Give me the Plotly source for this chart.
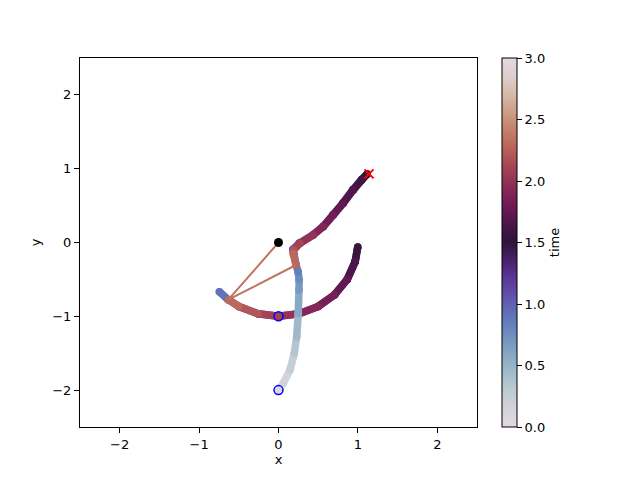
import plotly.graph_objects as go

# ---------------- data ----------------
T_MIN, T_MAX = 0.0, 3.0

# mass 1 trajectory (time, x, y)
m1_t = [0.00, 0.20, 0.40, 0.62, 0.85, 0.95, 1.02, 1.08, 1.14, 1.20, 1.26, 1.32, 1.38, 1.44, 1.50,
        1.60, 1.70, 1.80, 1.88, 1.96, 2.06, 2.16, 2.26, 2.35]
m1_x = [0.000, -0.259, -0.500, -0.632, -0.745, -0.632, -0.500, -0.259, 0.000, 0.259, 0.500, 0.707, 0.866, 0.966, 0.998,
        0.966, 0.866, 0.707, 0.500, 0.259, 0.000, -0.259, -0.500, -0.632]
m1_y = [-1.000, -0.966, -0.866, -0.775, -0.667, -0.775, -0.866, -0.966, -1.000, -0.966, -0.866, -0.707, -0.500, -0.259, -0.060,
        -0.259, -0.500, -0.707, -0.866, -0.966, -1.000, -0.966, -0.866, -0.775]

# mass 2 trajectory (time, x, y)
m2_t = [0.00, 0.10, 0.20, 0.30, 0.40, 0.52, 0.64, 0.72, 0.80, 0.88, 0.95,
        1.00, 1.06, 1.13, 1.20, 1.27, 1.34, 1.41, 1.46, 1.50,
        1.56, 1.63, 1.71, 1.79, 1.87, 1.95, 2.06, 2.16, 2.24, 2.35]
m2_x = [0.000, 0.060, 0.145, 0.199, 0.229, 0.249, 0.258, 0.260, 0.248, 0.220, 0.198,
        0.180, 0.262, 0.436, 0.562, 0.688, 0.813, 0.938, 1.045, 1.118,
        1.048, 0.942, 0.816, 0.690, 0.564, 0.438, 0.271, 0.190, 0.186, 0.220]
m2_y = [-2.000, -1.908, -1.728, -1.501, -1.276, -0.959, -0.644, -0.508, -0.400, -0.300, -0.170,
        -0.095, -0.008, 0.105, 0.218, 0.378, 0.537, 0.717, 0.850, 0.928,
        0.847, 0.711, 0.531, 0.373, 0.214, 0.102, -0.011, -0.100, -0.150, -0.305]

pivot_x, pivot_y = [0.0], [0.0]
start_x, start_y = [0.0, 0.0], [-1.0, -2.0]
target_x, target_y = [1.14], [0.93]

x_ticks = [-2, -1, 0, 1, 2]
y_ticks = [-2, -1, 0, 1, 2]
cb_ticks = [0.0, 0.5, 1.0, 1.5, 2.0, 2.5, 3.0]

# approximate matplotlib 'twilight' colormap
tw_pos = [0.00, 0.05, 0.10, 0.15, 0.20, 0.25, 0.30, 0.35, 0.40, 0.45, 0.50,
          0.55, 0.60, 0.65, 0.70, 0.75, 0.80, 0.85, 0.90, 0.95, 1.00]
tw_rgb = [(226, 217, 226), (211, 212, 218), (188, 203, 210), (160, 187, 202), (132, 166, 196),
          (110, 142, 191), (98, 115, 186), (96, 86, 175), (92, 56, 152), (74, 33, 110), (47, 20, 55),
          (76, 22, 76), (110, 27, 85), (138, 42, 87), (163, 65, 85), (182, 95, 88), (195, 126, 102),
          (204, 156, 130), (214, 185, 167), (222, 206, 205), (226, 217, 226)]

colorscale = [[p, "rgb(%d,%d,%d)" % c] for p, c in zip(tw_pos, tw_rgb)]


def cmap(t):
    f = (t - T_MIN) / (T_MAX - T_MIN)
    f = min(max(f, 0.0), 1.0)
    for i in range(len(tw_pos) - 1):
        if tw_pos[i] <= f <= tw_pos[i + 1]:
            a = (f - tw_pos[i]) / (tw_pos[i + 1] - tw_pos[i])
            c = [tw_rgb[i][k] + a * (tw_rgb[i + 1][k] - tw_rgb[i][k]) for k in range(3)]
            return "rgb(%d,%d,%d)" % tuple(round(v) for v in c)
    return "rgb(%d,%d,%d)" % tw_rgb[-1]


fig = go.Figure()

W = 7.5


def add_path(ts, xs, ys):
    for i in range(len(ts) - 1):
        col = cmap(0.5 * (ts[i] + ts[i + 1]))
        fig.add_trace(go.Scatter(
            x=[xs[i], xs[i + 1]], y=[ys[i], ys[i + 1]], mode="lines+markers",
            line=dict(color=col, width=W),
            marker=dict(color=col, size=W, line=dict(width=0)),
            showlegend=False, hoverinfo="skip"))


add_path(m1_t, m1_x, m1_y)
add_path(m2_t, m2_x, m2_y)

# rods at final time
rod_col = cmap(m1_t[-1])
fig.add_trace(go.Scatter(x=[pivot_x[0], m1_x[-1], m2_x[-1]], y=[pivot_y[0], m1_y[-1], m2_y[-1]],
                         mode="lines", line=dict(color=rod_col, width=2),
                         showlegend=False, hoverinfo="skip"))

fig.add_trace(go.Scatter(x=pivot_x, y=pivot_y, mode="markers",
                         marker=dict(color="black", size=9), showlegend=False))
fig.add_trace(go.Scatter(x=start_x, y=start_y, mode="markers",
                         marker=dict(symbol="circle-open", color="blue", size=9, line=dict(width=1.5)),
                         showlegend=False))
fig.add_trace(go.Scatter(x=target_x, y=target_y, mode="markers",
                         marker=dict(symbol="x-thin-open", color="red", size=9, line=dict(width=2, color="red")),
                         showlegend=False))

# colorbar
fig.add_trace(go.Scatter(
    x=[None], y=[None], mode="markers", showlegend=False,
    marker=dict(color=[0], colorscale=colorscale, cmin=T_MIN, cmax=T_MAX, showscale=True,
                colorbar=dict(
                    x=1.063, xanchor="left", xpad=0, y=0.5, yanchor="middle", ypad=0,
                    len=1, lenmode="fraction", thickness=15,
                    outlinewidth=1, outlinecolor="black",
                    ticks="outside", ticklen=5, tickwidth=1, tickcolor="black",
                    tickvals=cb_ticks, ticktext=["%.1f" % v for v in cb_ticks],
                    tickfont=dict(size=13, color="black"),
                    title=dict(text="time", side="right", font=dict(size=13, color="black")),
                ))))

axis_common = dict(showgrid=False, zeroline=False, showline=True, linecolor="black", linewidth=1,
                   mirror=True, ticks="outside", ticklen=5, tickwidth=1, tickcolor="black",
                   tickfont=dict(size=13, color="black"))

fig.update_xaxes(range=[-2.5, 2.5], tickvals=x_ticks, title=dict(text="x", font=dict(size=13, color="black"), standoff=4),
                 **axis_common)
fig.update_yaxes(range=[-2.5, 2.5], tickvals=y_ticks, title=dict(text="y", font=dict(size=13, color="black"), standoff=8),
                 **axis_common)

# page body adds ~8px offset; margins compensate so the plot area lands at 80..477 x 58..427
fig.update_layout(width=640, height=480, margin=dict(l=72, r=171, t=50, b=61),
                  plot_bgcolor="white", paper_bgcolor="white",
                  font=dict(family="DejaVu Sans", size=13, color="black"))

fig.write_html("out.html")
